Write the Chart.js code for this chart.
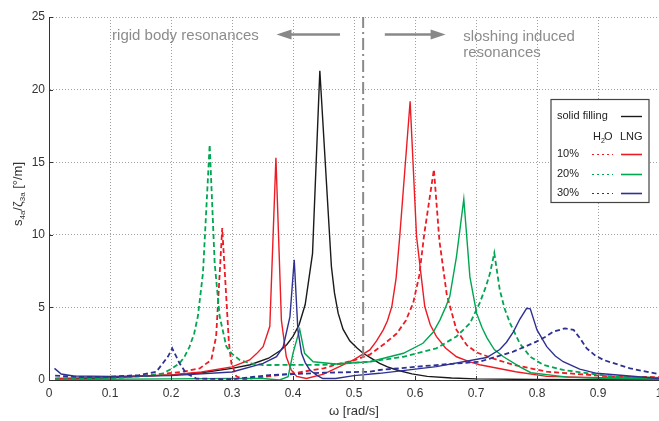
<!DOCTYPE html>
<html>
<head>
<meta charset="utf-8">
<script src="https://cdn.jsdelivr.net/npm/chart.js@4.4.0/dist/chart.umd.min.js"></script>
<style>html,body{margin:0;padding:0;overflow:hidden;background:#fff}</style>
</head>
<body>
<canvas id="chart" width="680" height="421"></canvas>
<script>
// tick labels
const xTickLabels = ['0','0.1','0.2','0.3','0.4','0.5','0.6','0.7','0.8','0.9','1'];
const yTickLabels = ['0','5','10','15','20','25'];

// solid filling
const solidX = [0.01,0.1,0.2,0.25,0.3,0.33,0.36,0.38,0.39,0.40,0.41,0.42,0.432,0.444,0.463,0.468,0.474,0.482,0.493,0.505,0.515,0.53,0.542,0.555,0.57,0.595,0.62,0.66,0.7,0.8,0.9,1.0];
const solidY = [0.05,0.15,0.35,0.5,0.8,1.05,1.5,2.05,2.45,3.0,3.8,5.2,8.7,21.3,7.8,6.0,4.6,3.5,2.7,2.2,1.84,1.45,1.15,0.9,0.69,0.42,0.25,0.14,0.08,0.03,0.02,0.01];

// 10% filling
const lng10X = [0.01,0.1,0.2,0.25,0.3,0.329,0.34,0.351,0.362,0.372,0.381,0.389,0.397,0.406,0.422,0.45,0.47,0.5,0.526,0.537,0.548,0.555,0.562,0.569,0.575,0.592,0.6025,0.616,0.625,0.635,0.65,0.668,0.69,0.706,0.765,0.816,0.9,1.0];
const lng10Y = [0.1,0.2,0.34,0.55,0.9,1.38,1.8,2.3,3.7,15.3,4.1,1.6,0.7,0.25,0.1,0.4,0.8,1.4,2.07,2.7,3.45,4.1,5.06,7.0,9.9,19.2,9.9,5.06,3.8,3.0,2.2,1.6,1.25,1.05,0.57,0.25,0.15,0.1];
const h2o10X = [0.01,0.1,0.165,0.22,0.247,0.266,0.274,0.284,0.295,0.299,0.307,0.32,0.35,0.4,0.45,0.47,0.5,0.526,0.55,0.57,0.585,0.597,0.607,0.615,0.631,0.64,0.652,0.668,0.685,0.701,0.73,0.761,0.816,0.925,1.0];
const h2o10Y = [0.1,0.15,0.34,0.57,0.8,1.38,3.0,10.46,2.53,1.15,0.25,0.05,0.2,0.46,0.8,1.05,1.35,1.75,2.5,3.2,4.1,5.3,7.2,10.0,14.5,9.6,5.9,3.45,2.4,1.9,1.45,1.05,0.57,0.23,0.2];

// 20% filling
const lng20X = [0.01,0.1,0.2,0.3,0.35,0.378,0.392,0.4,0.411,0.419,0.433,0.47,0.526,0.581,0.613,0.63,0.641,0.65,0.657,0.668,0.68,0.69,0.701,0.71,0.718,0.73,0.745,0.772,0.79,0.85,0.9,1.0];
const lng20Y = [0.02,0.05,0.08,0.1,0.1,0.0,0.23,1.84,3.5,1.84,1.26,1.1,1.26,1.84,2.53,3.3,4.14,5.0,5.75,8.5,12.46,7.1,4.6,3.6,2.9,2.1,1.6,0.9,0.5,0.2,0.12,0.08];
const h2o20X = [0.01,0.1,0.165,0.187,0.2,0.214,0.222,0.2305,0.238,0.244,0.2524,0.2634,0.2716,0.2798,0.2908,0.30,0.3126,0.33,0.351,0.45,0.526,0.581,0.635,0.668,0.69,0.706,0.716,0.723,0.730,0.739,0.747,0.756,0.772,0.789,0.81,0.843,0.925,1.0];
const h2o20Y = [0.05,0.1,0.3,0.46,0.75,1.15,1.6,2.3,3.2,4.37,7.36,16.2,8.04,4.37,2.3,1.8,1.38,1.15,1.03,1.05,1.26,1.6,2.18,3.0,3.9,5.3,6.4,7.36,8.74,6.2,4.9,3.9,2.5,1.6,1.05,0.69,0.23,0.15];

// 30% filling
const lng30X = [0.009,0.02,0.04,0.1,0.2,0.3,0.351,0.373,0.384,0.395,0.402,0.408,0.414,0.42,0.4275,0.44,0.449,0.47,0.5,0.542,0.635,0.7175,0.739,0.75,0.761,0.772,0.783,0.789,0.80,0.816,0.83,0.843,0.87,0.898,1.0];
const lng30Y = [0.8,0.41,0.28,0.25,0.3,0.55,1.15,1.61,2.3,4.37,8.28,3.45,1.84,1.2,0.69,0.3,0.1,0.1,0.3,0.46,0.92,1.55,2.1,2.6,3.3,4.2,4.94,4.9,3.45,2.3,1.65,1.26,0.75,0.46,0.1];
const h2o30X = [0.01,0.05,0.1,0.148,0.176,0.195,0.202,0.214,0.225,0.2415,0.3,0.362,0.4,0.45,0.526,0.542,0.635,0.706,0.761,0.799,0.815,0.827,0.846,0.86,0.87,0.8815,0.895,0.909,0.9526,1.0];
const h2o30Y = [0.3,0.22,0.22,0.34,0.57,1.61,2.18,1.15,0.46,0.1,0.05,0.34,0.4,0.5,0.57,0.69,1.03,1.26,1.95,2.64,3.0,3.33,3.56,3.45,2.9,2.18,1.7,1.38,0.8,0.4];

// divider between the two resonance regions
const dividerX = 0.515;

const RED = '#ed1c24', GREEN = '#00a651', BLUE = '#2e3192', BLACK = '#1a1a1a';
const dash = [5, 3];

function pts(xs, ys) { return xs.map((x, i) => ({x: x, y: ys[i]})); }
function line(label, xs, ys, color, dashed) {
  return {
    label: label, data: pts(xs, ys), borderColor: color,
    borderWidth: dashed ? 1.8 : 1.4, borderDash: dashed ? dash : [],
    pointRadius: 0, tension: 0, fill: false
  };
}

const annotations = {
  id: 'annotations',
  afterDraw(chart) {
    const ctx = chart.ctx, xs = chart.scales.x, ys = chart.scales.y, area = chart.chartArea;
    ctx.save();
    // inward ticks
    ctx.strokeStyle = '#333'; ctx.lineWidth = 1;
    ctx.beginPath();
    xs.ticks.forEach(t => { const p = Math.round(xs.getPixelForValue(t.value)) + 0.5; ctx.moveTo(p, area.bottom); ctx.lineTo(p, area.bottom - 4); });
    ys.ticks.forEach(t => { const p = Math.round(ys.getPixelForValue(t.value)) + 0.5; ctx.moveTo(area.left, p); ctx.lineTo(area.left + 4, p); });
    ctx.stroke();

    // arrows
    const ay = ys.getPixelForValue(23.8);
    function arrow(x0, x1) {
      const p0 = xs.getPixelForValue(x0), p1 = xs.getPixelForValue(x1);
      const dir = Math.sign(p1 - p0);
      ctx.strokeStyle = '#888'; ctx.fillStyle = '#888'; ctx.lineWidth = 2.5;
      ctx.beginPath(); ctx.moveTo(p0, ay); ctx.lineTo(p1 - dir * 12, ay); ctx.stroke();
      ctx.beginPath(); ctx.moveTo(p1, ay); ctx.lineTo(p1 - dir * 15, ay - 5); ctx.lineTo(p1 - dir * 15, ay + 5); ctx.closePath(); ctx.fill();
    }
    arrow(0.477, 0.373);
    arrow(0.5505, 0.6502);

    ctx.fillStyle = '#8c8c8c';
    ctx.font = '15px "Liberation Sans", Arial, sans-serif';
    ctx.textBaseline = 'middle';
    ctx.textAlign = 'right';
    ctx.fillText('rigid body resonances', xs.getPixelForValue(0.344), ys.getPixelForValue(23.7));
    ctx.textAlign = 'left';
    ctx.fillText('sloshing induced', xs.getPixelForValue(0.679), ys.getPixelForValue(23.65));
    ctx.fillText('resonances', xs.getPixelForValue(0.679), ys.getPixelForValue(22.5));

    // y axis title with subscripts
    ctx.save();
    ctx.translate(18, 194);
    ctx.rotate(-Math.PI / 2);
    ctx.fillStyle = '#333';
    const parts = [['s', 0], ['4a', 1], ['/', 0], ['\u03b6', 0], ['3a', 1], [' [\u00b0/m]', 0]];
    const mainF = '13px "Liberation Sans", Arial, sans-serif', subF = '8px "Liberation Sans", Arial, sans-serif';
    let total = 0;
    parts.forEach(p => { ctx.font = p[1] ? subF : mainF; total += ctx.measureText(p[0]).width; });
    let cx = -total / 2;
    ctx.textAlign = 'left'; ctx.textBaseline = 'alphabetic';
    parts.forEach(p => {
      ctx.font = p[1] ? subF : mainF;
      ctx.fillText(p[0], cx, p[1] ? 7 : 4);
      cx += ctx.measureText(p[0]).width;
    });
    ctx.restore();

    // legend box
    const L = 551, T = 99.5, W = 98, H = 103;
    ctx.fillStyle = '#fff'; ctx.fillRect(L, T, W, H);
    ctx.strokeStyle = '#444'; ctx.lineWidth = 1.2; ctx.strokeRect(L, T, W, H);
    ctx.font = '11px "Liberation Sans", Arial, sans-serif';
    ctx.fillStyle = '#222'; ctx.textAlign = 'left'; ctx.textBaseline = 'middle';
    ctx.fillText('solid filling', 557, 116);
    ctx.strokeStyle = BLACK; ctx.lineWidth = 1.4; ctx.setLineDash([]);
    ctx.beginPath(); ctx.moveTo(621, 116.5); ctx.lineTo(642, 116.5); ctx.stroke();
    ctx.fillText('H', 593, 137);
    ctx.font = '7px "Liberation Sans", Arial, sans-serif';
    ctx.fillText('2', 601, 141);
    ctx.font = '11px "Liberation Sans", Arial, sans-serif';
    ctx.fillText('O', 604, 137);
    ctx.fillText('LNG', 620, 137);
    const rows = [['10%', RED, 154], ['20%', GREEN, 174], ['30%', BLUE, 193]];
    rows.forEach(r => {
      ctx.fillStyle = '#222';
      ctx.fillText(r[0], 557, r[2]);
      ctx.strokeStyle = r[1];
      ctx.lineWidth = 1.2; ctx.setLineDash([2, 3]);
      ctx.beginPath(); ctx.moveTo(592, r[2] + 0.5); ctx.lineTo(613, r[2] + 0.5); ctx.stroke();
      ctx.lineWidth = 1.6; ctx.setLineDash([]);
      ctx.beginPath(); ctx.moveTo(621, r[2] + 0.5); ctx.lineTo(642, r[2] + 0.5); ctx.stroke();
    });
    ctx.restore();
  }
};

const tickFont = {family: '"Liberation Sans", Arial, sans-serif', size: 12};

new Chart(document.getElementById('chart').getContext('2d'), {
  type: 'line',
  data: {
    datasets: [
      {label: 'divider', data: [{x: dividerX, y: 0}, {x: dividerX, y: 25}], borderColor: '#8a8a8a', borderWidth: 2, borderDash: [12, 4, 2, 4], pointRadius: 0},
      line('H2O 30%', h2o30X, h2o30Y, BLUE, true),
      line('LNG 30%', lng30X, lng30Y, BLUE, false),
      line('H2O 20%', h2o20X, h2o20Y, GREEN, true),
      line('LNG 20%', lng20X, lng20Y, GREEN, false),
      line('H2O 10%', h2o10X, h2o10Y, RED, true),
      line('LNG 10%', lng10X, lng10Y, RED, false),
      line('solid filling', solidX, solidY, BLACK, false)
    ]
  },
  options: {
    responsive: false,
    animation: false,
    layout: {padding: {left: 0, right: 21, top: 17, bottom: 0}},
    plugins: {legend: {display: false}, tooltip: {enabled: false}},
    scales: {
      x: {
        type: 'linear', min: 0, max: 1,
        afterFit: s => { s.height = 41; },
        ticks: {stepSize: 0.1, color: '#333', font: tickFont, padding: 6, maxRotation: 0,
          callback: (v, i) => xTickLabels[i]},
        grid: {color: '#a0a0a0', lineWidth: 1, drawTicks: false},
        border: {display: true, color: '#333', width: 1, dash: [1, 2]},
        title: {display: true, text: '\u03c9 [rad/s]', color: '#333', font: {family: '"Liberation Sans", Arial, sans-serif', size: 13}, padding: {top: 4, bottom: 2}}
      },
      y: {
        min: 0, max: 25,
        afterFit: s => { s.width = 49; },
        ticks: {stepSize: 5, color: '#333', font: tickFont, padding: 4,
          callback: (v, i) => yTickLabels[i]},
        grid: {color: '#a0a0a0', lineWidth: 1, drawTicks: false},
        border: {display: true, color: '#333', width: 1, dash: [1, 2]}
      }
    }
  },
  plugins: [annotations]
});
</script>
</body>
</html>
